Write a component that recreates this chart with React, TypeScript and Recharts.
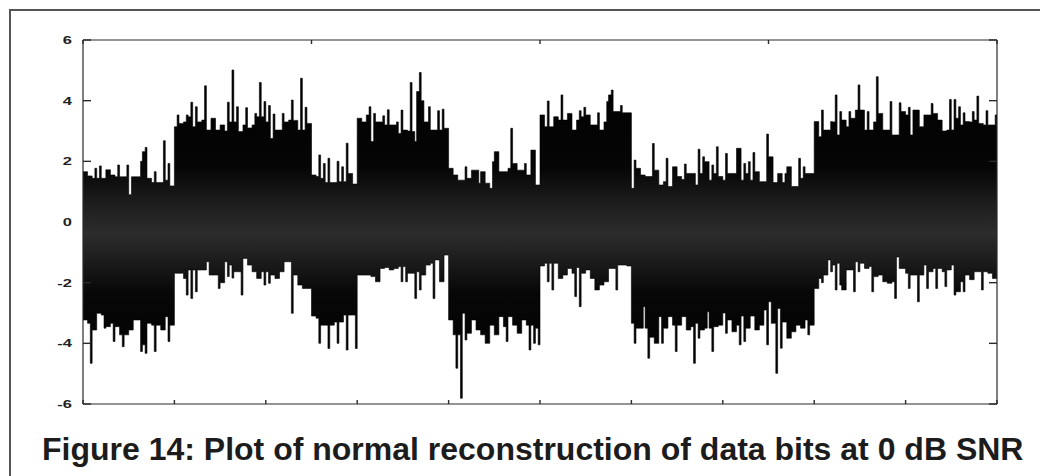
import React from 'react';
import { ComposedChart, Area, XAxis, YAxis } from 'recharts';

// Upper edge of the reconstructed signal: level of each bin (10 bins per data bit)
const upperBody = [
  1.66, 1.52, 1.44, 1.44, 1.44, 1.72, 1.55, 1.49, 1.49, 1.49,
  0.9, 1.49, 1.49, 2.32, 1.44, 1.3, 1.3, 1.3, 1.38, 1.19,
  3.14, 3.25, 3.3, 3.47, 3.14, 3.3, 3.36, 3.03, 3.42, 3.03,
  3.2, 3.0, 3.3, 3.3, 2.98, 3.2, 3.1, 3.2, 3.47, 3.47,
  3.3, 2.75, 3.03, 3.03, 3.3, 3.36, 3.35, 3.03, 3.03, 3.25,
  1.55, 1.5, 1.44, 1.3, 1.3, 1.3, 1.33, 1.33, 1.6, 1.25,
  3.42, 3.3, 3.53, 2.65, 3.3, 3.3, 3.2, 3.2, 3.2, 2.92,
  3.03, 3.0, 2.98, 4.3, 4.0, 3.3, 3.03, 3.03, 3.03, 3.09,
  1.77, 1.55, 1.38, 1.38, 1.44, 1.71, 1.71, 1.66, 1.28, 1.11,
  2.32, 1.66, 1.66, 1.77, 1.93, 1.71, 1.71, 1.55, 2.37, 1.22,
  3.53, 3.14, 3.14, 3.47, 3.36, 3.36, 3.58, 3.03, 3.36, 3.47,
  3.53, 3.2, 3.2, 3.03, 3.3, 4.19, 3.64, 3.64, 3.6, 3.6,
  1.11, 1.77, 1.55, 1.5, 1.5, 1.71, 1.22, 1.33, 1.17, 1.82,
  1.5, 1.4, 1.6, 1.6, 1.22, 1.6, 1.99, 1.38, 1.6, 1.5,
  1.38, 1.6, 1.6, 2.43, 1.38, 1.6, 1.38, 1.66, 1.33, 1.33,
  2.15, 1.3, 1.6, 1.3, 1.82, 1.17, 1.17, 1.44, 1.6, 1.6,
  3.31, 2.81, 3.03, 3.03, 3.3, 2.87, 3.36, 3.14, 3.42, 3.69,
  3.69, 3.03, 3.03, 3.3, 3.58, 3.03, 3.03, 2.87, 2.87, 3.64,
  3.53, 2.87, 3.69, 3.14, 3.53, 3.53, 3.58, 3.36, 3.0, 3.03,
  3.03, 3.42, 3.2, 3.31, 3.3, 3.36, 3.25, 3.2, 3.2, 3.2,
];

// Thin spike on the upper edge inside each bin (null: no spike)
const upperSpike = [
  null, null, 1.77, 1.85, null, null, null, 1.88, null, 1.88,
  1.49, null, 2.0, 2.46, null, 1.66, null, 2.68, 1.93, null,
  3.53, null, 3.53, 3.95, 3.8, null, 4.49, null, null, null,
  null, 3.95, 5.01, 3.8, null, 3.77, null, 3.58, 4.6, 3.97,
  3.84, 3.56, null, 3.58, null, 4.02, null, 4.74, 3.78, null,
  null, 2.21, 1.93, 2.1, null, 2.0, 1.82, 2.6, null, null,
  null, null, 3.8, 3.58, null, 3.5, 3.7, null, 3.3, 3.69,
  null, 4.6, 2.65, 4.93, 3.3, 3.8, null, 3.67, 3.72, null,
  null, null, null, 1.82, null, null, 1.28, null, null, 1.99,
  null, null, null, 3.09, null, null, 1.93, null, null, null,
  null, 3.99, null, null, 4.19, null, null, null, 3.67, 3.78,
  null, null, 3.6, null, 3.97, 4.35, null, 3.84, null, null,
  2.04, null, null, null, 2.59, null, null, 2.1, null, null,
  null, 1.91, null, null, 2.4, 2.15, null, 1.88, 2.48, null,
  2.26, null, null, null, 1.93, 1.99, 2.29, null, null, 2.9,
  null, null, null, 1.6, null, null, 2.1, 1.82, null, null,
  null, 3.69, null, 3.31, 4.19, 3.64, null, 3.64, null, 4.52,
  null, 3.64, null, 4.79, null, null, 3.97, null, 3.93, null,
  3.78, 3.69, null, null, null, 3.91, null, null, null, 4.04,
  4.04, 3.8, 3.6, null, 3.64, 4.15, null, 3.67, null, 3.53,
];

// Lower edge of the reconstructed signal: level of each bin
const lowerBody = [
  -3.23, -3.34, -3.56, -3.01, -3.07, -3.45, -3.34, -3.45, -3.72, -3.72,
  -3.56, -3.23, -3.23, -4.05, -3.34, -3.4, -3.4, -3.56, -3.12, -3.4,
  -1.69, -1.69, -1.86, -1.58, -1.58, -1.58, -1.58, -1.31, -1.75, -1.75,
  -2.0, -1.31, -1.42, -1.64, -1.64, -1.2, -1.42, -1.64, -1.86, -1.64,
  -1.64, -1.75, -1.86, -1.64, -1.31, -1.31, -1.75, -2.08, -2.19, -2.19,
  -3.1, -3.17, -3.4, -3.4, -3.4, -3.3, -3.3, -3.07, -3.07, -3.07,
  -1.75, -1.75, -1.75, -1.8, -1.97, -1.53, -1.5, -1.58, -1.53, -1.47,
  -1.47, -1.69, -1.69, -1.64, -1.75, -1.42, -1.36, -1.25, -1.97, -1.09,
  -3.23, -3.72, -3.72, -3.01, -3.67, -3.23, -3.56, -3.72, -4.0, -3.4,
  -3.72, -3.12, -3.45, -3.12, -3.4, -3.67, -3.23, -3.4, -3.4, -3.5,
  -1.45, -1.36, -1.36, -1.36, -1.86, -1.75, -1.53, -1.69, -1.5, -1.69,
  -1.58, -1.86, -2.24, -2.08, -1.97, -1.53, -1.53, -1.42, -1.42, -1.45,
  -3.34, -3.5, -3.5, -3.5, -3.8, -4.0, -3.12, -3.5, -3.12, -3.4,
  -3.4, -3.12, -3.56, -3.45, -3.34, -3.56, -3.5, -3.5, -3.45, -3.4,
  -3.0, -3.23, -3.62, -3.4, -3.1, -3.5, -3.1, -3.56, -3.4, -2.9,
  -2.63, -3.34, -2.85, -3.3, -3.83, -3.62, -3.4, -3.5, -3.23, -3.4,
  -2.19, -1.86, -1.75, -1.25, -1.42, -1.36, -2.24, -1.58, -1.58, -1.31,
  -1.36, -1.53, -1.47, -1.8, -1.75, -1.97, -2.02, -1.97, -1.15, -1.53,
  -1.69, -1.75, -1.75, -1.75, -1.42, -1.64, -1.53, -1.53, -1.64, -1.58,
  -1.42, -2.3, -1.97, -1.75, -1.9, -1.64, -1.64, -1.64, -1.69, -1.86,
];

// Thin spike on the lower edge inside each bin (null: no spike)
const lowerSpike = [
  null, -4.66, null, null, -3.5, null, -3.94, null, -4.11, null,
  null, null, -4.27, -4.33, null, -4.27, null, null, -3.94, null,
  null, null, -2.41, -2.52, -2.3, null, null, -1.75, null, -2.19,
  null, -1.8, -1.85, null, -2.41, null, null, null, null, -2.08,
  -2.02, null, null, null, null, -3.01, null, null, null, null,
  null, -4.0, null, -4.17, null, -4.0, null, -4.22, null, -4.17,
  null, null, null, null, null, null, null, null, null, -1.97,
  -1.97, null, -2.52, -2.24, null, null, -2.52, null, null, null,
  null, -4.82, -5.81, -3.89, null, null, null, null, null, null,
  null, null, -3.94, null, null, null, null, -4.22, -4.0, -4.05,
  null, -1.97, -2.24, null, null, null, null, -2.46, -2.79, null,
  null, null, null, null, null, null, -2.24, null, null, null,
  -4.0, null, -2.79, -4.49, null, null, -4.0, null, null, -4.27,
  null, null, null, -4.66, -3.83, null, -2.96, -4.27, null, null,
  -3.67, null, null, -4.05, -3.94, null, null, null, null, -4.05,
  -3.34, -4.99, -4.16, null, null, null, null, null, -3.72, null,
  null, -2.0, null, -1.64, -2.24, -2.08, null, null, -2.3, -1.64,
  null, null, -2.3, null, null, null, null, -2.52, -1.53, null,
  -2.19, null, -2.63, null, -2.19, null, -2.19, null, -2.13, null,
  -2.41, null, -2.3, null, null, null, -2.24, null, null, null,
];

const samplesPerBin = 5;
const spikeOffset = 3; // sample inside a bin where the thin spike starts
const xTicks = [0, 100, 200, 300, 400, 500, 600, 700, 800, 900, 1000];
const yTicks = [-6, -4, -2, 0, 2, 4, 6];
const captionText = 'Figure 14: Plot of normal reconstruction of data bits at 0 dB SNR';

type Pt = { x: number; range: [number, number] };
const data: Pt[] = [];
upperBody.forEach((hi, i) => {
  const lo = lowerBody[i];
  data.push({ x: i * samplesPerBin, range: [lo, hi] });
  data.push({
    x: i * samplesPerBin + spikeOffset,
    range: [lowerSpike[i] ?? lo, upperSpike[i] ?? hi],
  });
});
data.push({ x: upperBody.length * samplesPerBin, range: data[data.length - 1].range });

const axisColor = '#2a2a2a';

const YTick = (props: any) => {
  const { x, y, payload } = props;
  return (
    <g transform={`translate(${x},${y}) scale(1.5,1)`}>
      <text
        x={0}
        y={0}
        dy="0.36em"
        textAnchor="end"
        fontFamily='"Liberation Sans", Arial, sans-serif'
        fontWeight="bold"
        fontSize={11}
        fill="#222"
      >
        {payload.value}
      </text>
    </g>
  );
};

const NoLabel = () => null;

const frameAxis = {
  tick: <NoLabel />,
  interval: 0 as const,
  allowDataOverflow: true,
  axisLine: { stroke: axisColor, strokeWidth: 1.2 },
  tickLine: { stroke: axisColor, strokeWidth: 1.4 },
  mirror: true,
};

export default function App() {
  return (
    <div style={{ position: 'absolute', left: 0, top: 0, width: 1040, height: 476, background: '#fff', overflow: 'hidden' }}>
      <div
        style={{
          position: 'absolute',
          left: 9,
          top: 9,
          width: 1040,
          height: 476,
          borderLeft: '2px solid #555',
          borderTop: '2px solid #555',
          boxSizing: 'border-box',
        }}
      />
      <div style={{ position: 'absolute', left: 0, top: 0 }}>
        <ComposedChart width={1040} height={476} data={data} margin={{ top: 40, right: 43, bottom: 72, left: 43 }}>
          <defs>
            <linearGradient id="sigFill" x1="0" y1="0" x2="0" y2="1">
              <stop offset="0" stopColor="#000" />
              <stop offset="0.3" stopColor="#060606" />
              <stop offset="0.42" stopColor="#202020" />
              <stop offset="0.5" stopColor="#2c2c2c" />
              <stop offset="0.58" stopColor="#1c1c1c" />
              <stop offset="0.68" stopColor="#070707" />
              <stop offset="1" stopColor="#000" />
            </linearGradient>
          </defs>
          <XAxis xAxisId="b" dataKey="x" type="number" domain={[0, 1000]} ticks={xTicks} tickSize={4} height={1} {...frameAxis} />
          <XAxis xAxisId="t" orientation="top" type="number" domain={[0, 1000]} ticks={xTicks} tickSize={4} height={1} {...frameAxis} />
          <YAxis
            yAxisId="l"
            type="number"
            domain={[-6, 6]}
            allowDataOverflow
            ticks={yTicks}
            interval={0}
            width={40}
            tickLine={false}
            axisLine={false}
            tickSize={0}
            tickMargin={11}
            tick={<YTick />}
          />
          <YAxis yAxisId="li" type="number" domain={[-6, 6]} ticks={yTicks} width={1} tickSize={8} {...frameAxis} />
          <YAxis yAxisId="r" orientation="right" type="number" domain={[-6, 6]} ticks={yTicks} width={1} tickSize={8} {...frameAxis} />
          <Area
            xAxisId="b"
            yAxisId="l"
            dataKey="range"
            type="stepAfter"
            fill="url(#sigFill)"
            fillOpacity={1}
            stroke="#000"
            strokeWidth={0.6}
            isAnimationActive={false}
            dot={false}
            activeDot={false}
          />
        </ComposedChart>
      </div>
      <div
        style={{
          position: 'absolute',
          left: 42,
          top: 433,
          font: 'bold 32px "Liberation Sans", Arial, sans-serif',
          lineHeight: '32px',
          color: '#1c1c1c',
          whiteSpace: 'nowrap',
        }}
      >
        {captionText}
      </div>
    </div>
  );
}
